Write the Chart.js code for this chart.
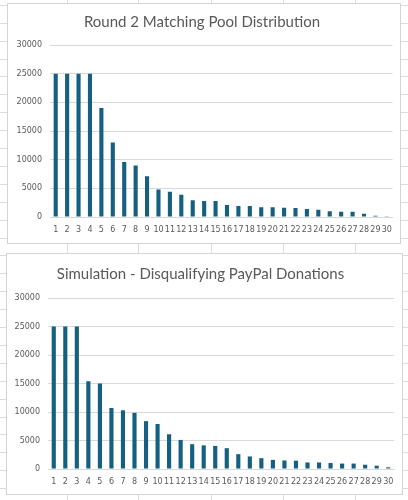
<!DOCTYPE html>
<html>
<head>
<meta charset="utf-8">
<script src="https://cdn.jsdelivr.net/npm/chart.js@4"></script>
<style>
  html, body { margin: 0; padding: 0; }
  body {
    width: 408px; height: 500px; position: relative; overflow: hidden;
    background-color: #fff;
    background-image:
      repeating-linear-gradient(to bottom, transparent 0, transparent 4.9px, #dcdcdc 4.9px, #dcdcdc 5.9px, transparent 5.9px, transparent 17.9px),
      linear-gradient(to right, transparent 67px, #dcdcdc 67px, #dcdcdc 68px, transparent 68px,
        transparent 138px, #dcdcdc 138px, #dcdcdc 139px, transparent 139px,
        transparent 211px, #dcdcdc 211px, #dcdcdc 212px, transparent 212px,
        transparent 283px, #dcdcdc 283px, #dcdcdc 284px, transparent 284px,
        transparent 355px, #dcdcdc 355px, #dcdcdc 356px, transparent 356px);
  }
  .box { position: absolute; background: #fff; border: 1px solid #d4d4d4; box-sizing: border-box; }
  #box1 { left: 7px; top: 3px; width: 394px; height: 241px; }
  #box2 { left: 6px; top: 253px; width: 397px; height: 242px; }
  canvas { display: block; }
</style>
</head>
<body>
<div class="box" id="box1"><canvas id="chart1" width="392" height="239"></canvas></div>
<div class="box" id="box2"><canvas id="chart2" width="395" height="240"></canvas></div>
<script>
const projects = ['1', '2', '3', '4', '5', '6', '7', '8', '9', '10',
  '11', '12', '13', '14', '15', '16', '17', '18', '19', '20',
  '21', '22', '23', '24', '25', '26', '27', '28', '29', '30']

const round2Matching = [25000, 25000, 25000, 25000, 19000, 13000, 9600, 9000, 7100, 4800,
  4400, 3900, 2900, 2800, 2800, 2100, 1900, 1900, 1700, 1700,
  1600, 1550, 1400, 1250, 1000, 900, 900, 550, 200, 150]

const simulationNoPayPal = [25000, 25000, 25000, 15400, 15000, 10700, 10300, 9850, 8400, 7900,
  6100, 5100, 4350, 4150, 4050, 3650, 2600, 2200, 1900, 1600,
  1500, 1450, 1150, 1150, 1050, 950, 950, 750, 580, 300]

const yTicks = [0, 5000, 10000, 15000, 20000, 25000, 30000]

const barColor = '#156082'
const textColor = '#595959'
const gridColor = '#d9d9d9'
const tickFont = { family: 'DejaVu Sans', size: 8 }

function makeChart(id, title, values, opts) {
  const ctx = document.getElementById(id).getContext('2d')
  return new Chart(ctx, {
    type: 'bar',
    data: {
      labels: projects,
      datasets: [{
        data: values,
        backgroundColor: barColor,
        barPercentage: 0.36,
        categoryPercentage: 1
      }]
    },
    options: {
      responsive: false,
      animation: false,
      layout: { padding: { left: 0, right: opts.right, top: 0, bottom: 0 } },
      plugins: {
        legend: { display: false },
        tooltip: { enabled: false },
        title: {
          display: true,
          text: title,
          color: textColor,
          font: { family: 'Lato', size: 15, weight: 'normal' },
          padding: { top: opts.titleTop, bottom: opts.titleBottom }
        }
      },
      scales: {
        x: {
          grid: { display: false, drawTicks: false },
          border: { display: true, color: gridColor },
          ticks: {
            color: textColor,
            font: tickFont,
            autoSkip: false,
            maxRotation: 0,
            padding: 8
          },
          afterFit: scale => { scale.height = opts.xHeight }
        },
        y: {
          min: 0,
          max: 30000,
          afterBuildTicks: scale => { scale.ticks = yTicks.map(v => ({ value: v })) },
          grid: { color: gridColor, drawTicks: false },
          border: { display: false },
          ticks: {
            color: textColor,
            font: tickFont,
            padding: 8,
            callback: value => String(value)
          },
          afterFit: scale => { scale.width = opts.yWidth }
        }
      }
    }
  })
}

makeChart('chart1', 'Round 2 Matching Pool Distribution', round2Matching,
  { right: 4, titleTop: 9, titleBottom: 14, xHeight: 26, yWidth: 42 })

makeChart('chart2', 'Simulation - Disqualifying PayPal Donations', simulationNoPayPal,
  { right: 8, titleTop: 11, titleBottom: 15, xHeight: 25, yWidth: 41 })
</script>
</body>
</html>
